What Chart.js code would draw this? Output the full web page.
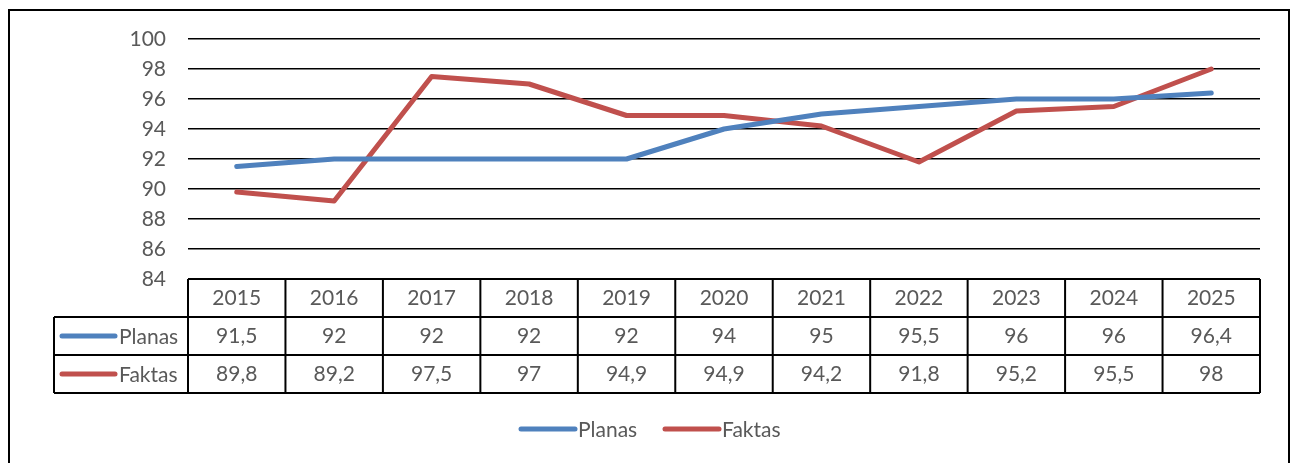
<!DOCTYPE html>
<html>
<head>
<meta charset="utf-8">
<script src="https://cdn.jsdelivr.net/npm/chart.js@4.4.1/dist/chart.umd.min.js"></script>
<style>
  html, body { margin: 0; padding: 0; background: #fff; }
  #wrap { width: 1294px; height: 463px; }
</style>
</head>
<body>
<div id="wrap"><canvas id="myChart" width="1294" height="463"></canvas></div>
<script>
const years = ["2015", "2016", "2017", "2018", "2019", "2020", "2021", "2022", "2023", "2024", "2025"];
const planas = [91.5, 92, 92, 92, 92, 94, 95, 95.5, 96, 96, 96.4];
const faktas = [89.8, 89.2, 97.5, 97, 94.9, 94.9, 94.2, 91.8, 95.2, 95.5, 98];
const seriesNames = ["Planas", "Faktas"];
const seriesColors = ["#4F81BD", "#C0504D"];

const FAMILY = "Lato, 'Open Sans', sans-serif";
const FONT = "21px " + FAMILY;
const TEXT = "#595959";

function fmt(v) {
  return String(v).replace(".", ",");
}

// draws border, data table and bottom legend
const tablePlugin = {
  id: "dataTable",
  beforeDraw(chart) {
    const ctx = chart.ctx;
    ctx.save();
    ctx.fillStyle = "#fff";
    ctx.fillRect(0, 0, chart.width, chart.height);
    ctx.restore();
  },
  afterDraw(chart) {
    const ctx = chart.ctx;
    const x = chart.scales.x;
    const area = chart.chartArea;
    const half = (x.getPixelForValue(1) - x.getPixelForValue(0)) / 2;
    const rowH = 38;
    const top = area.bottom;
    const headLeft = 54;

    ctx.save();
    // outer frame
    ctx.strokeStyle = "#000";
    ctx.lineWidth = 2;
    ctx.strokeRect(9, 10, 1280, 470);

    // grid of the table
    ctx.lineWidth = 2;
    ctx.beginPath();
    ctx.moveTo(area.left, top);
    ctx.lineTo(area.right, top);
    ctx.moveTo(headLeft, top + rowH);
    ctx.lineTo(area.right, top + rowH);
    ctx.moveTo(headLeft, top + rowH * 2);
    ctx.lineTo(area.right, top + rowH * 2);
    ctx.moveTo(headLeft, top + rowH * 3);
    ctx.lineTo(area.right, top + rowH * 3);
    ctx.moveTo(headLeft, top + rowH);
    ctx.lineTo(headLeft, top + rowH * 3);
    for (let i = 0; i <= years.length; i++) {
      const px = x.getPixelForValue(0) - half + i * half * 2;
      ctx.moveTo(px, top);
      ctx.lineTo(px, top + rowH * 3);
    }
    ctx.stroke();

    ctx.font = FONT;
    ctx.fillStyle = TEXT;
    ctx.textAlign = "center";
    ctx.textBaseline = "middle";
    const rows = [planas, faktas];
    years.forEach((yr, i) => {
      const cx = x.getPixelForValue(i);
      ctx.fillText(yr, cx, top + rowH / 2);
      rows.forEach((arr, r) => {
        ctx.fillText(fmt(arr[i]), cx, top + rowH * (r + 1.5));
      });
    });

    // row headers with legend keys
    ctx.lineCap = "round";
    ctx.lineWidth = 5;
    ctx.textAlign = "left";
    seriesNames.forEach((name, r) => {
      const cy = top + rowH * (r + 1.5);
      ctx.strokeStyle = seriesColors[r];
      ctx.beginPath();
      ctx.moveTo(62, cy);
      ctx.lineTo(115, cy);
      ctx.stroke();
      ctx.fillStyle = TEXT;
      ctx.fillText(name, 119, cy + 1);
    });

    // bottom legend
    const legendX = [521, 665];
    seriesNames.forEach((name, r) => {
      const cy = 429;
      ctx.strokeStyle = seriesColors[r];
      ctx.beginPath();
      ctx.moveTo(legendX[r], cy);
      ctx.lineTo(legendX[r] + 54, cy);
      ctx.stroke();
      ctx.fillStyle = TEXT;
      ctx.fillText(name, legendX[r] + 57, cy + 1);
    });
    ctx.restore();
  }
};

const ctx = document.getElementById("myChart").getContext("2d");
new Chart(ctx, {
  type: "line",
  data: {
    labels: years,
    datasets: [
      {
        label: seriesNames[0],
        data: planas,
        borderColor: seriesColors[0],
        borderWidth: 5,
        pointRadius: 0,
        tension: 0,
        borderJoinStyle: "round",
        borderCapStyle: "round",
        fill: false,
      },
      {
        label: seriesNames[1],
        data: faktas,
        borderColor: seriesColors[1],
        borderWidth: 5,
        pointRadius: 0,
        tension: 0,
        borderJoinStyle: "round",
        borderCapStyle: "round",
        fill: false,
      },
    ],
  },
  options: {
    responsive: false,
    animation: false,
    plugins: {
      legend: { display: false },
      tooltip: { enabled: false },
    },
    layout: {
      padding: { left: 0, right: 34, top: 39, bottom: 184 },
    },
    scales: {
      x: {
        display: false,
        offset: true,
      },
      y: {
        min: 84,
        max: 100,
        ticks: {
          stepSize: 2,
          padding: 22,
          color: TEXT,
          font: { family: FAMILY, size: 21 },
        },
        grid: {
          color: (c) => (c.tick && c.tick.value === 84 ? "rgba(0,0,0,0)" : "#000"),
          lineWidth: 1.5,
          drawTicks: false,
        },
        border: { display: false },
        afterFit(scale) {
          scale.width = 188;
        },
      },
    },
  },
  plugins: [tablePlugin],
});
</script>
</body>
</html>
